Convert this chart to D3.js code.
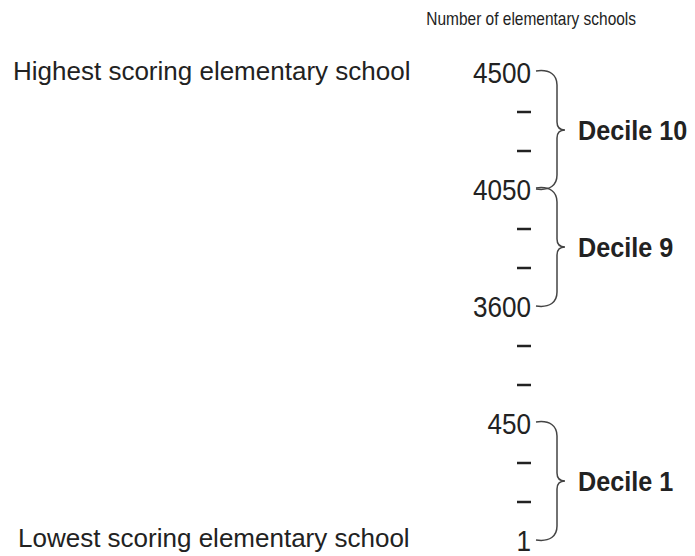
<!DOCTYPE html>
<html>
<head>
<meta charset="utf-8">
<script src="https://cdn.jsdelivr.net/npm/d3@7"></script>
<style>
  body { margin: 0; background: #fff; }
  text { font-family: "Liberation Sans", Arial, sans-serif; fill: #222; }
</style>
</head>
<body>
<svg id="chart" width="695" height="556"></svg>
<script>
// rows of the rank ladder, top to bottom ("" = skipped ranks, drawn as a dash)
var rowLabels = ["4500", "", "", "4050", "", "", "3600", "", "", "450", "", "", "1"];

// deciles and the ranks they span
var decileNames = ["Decile 10", "Decile 9", "Decile 1"];
var decileTop = ["4500", "4050", "450"];
var decileBottom = ["4050", "3600", "1"];

var title = "Number of elementary schools";
var topLabel = "Highest scoring elementary school";
var bottomLabel = "Lowest scoring elementary school";

var svg = d3.select("#chart");

var y = d3.scalePoint()
    .domain(d3.range(rowLabels.length))
    .range([73, 541]);

var numRight = 531,   // right edge of the numbers
    braceX0 = 536,
    braceX1 = 557,
    tipX = 565,
    labelX = 578;

// title
svg.append("text")
    .attr("transform", "translate(636,25) scale(0.86,1)")
    .attr("text-anchor", "end")
    .style("font-size", "18px")
    .text(title);

// left side labels
svg.append("text")
    .attr("x", 13)
    .attr("y", y(0) + 7)
    .style("font-size", "26px")
    .text(topLabel);

svg.append("text")
    .attr("x", 18)
    .attr("y", y(rowLabels.length - 1) + 6)
    .style("font-size", "26px")
    .text(bottomLabel);

// numbers
svg.selectAll(".num")
    .data(rowLabels.map(function(d, i) { return {label: d, i: i}; })
        .filter(function(d) { return d.label !== ""; }))
  .enter().append("text")
    .attr("class", "num")
    .attr("transform", function(d) { return "translate(" + numRight + "," + y(d.i) + ") scale(0.9,1)"; })
    .attr("text-anchor", "end")
    .attr("dy", "0.36em")
    .style("font-size", "29px")
    .text(function(d) { return d.label; });

// dashes for the skipped ranks
svg.selectAll(".dash")
    .data(d3.range(rowLabels.length).filter(function(i) { return rowLabels[i] === ""; }))
  .enter().append("line")
    .attr("class", "dash")
    .attr("x1", numRight - 14)
    .attr("x2", numRight)
    .attr("y1", function(i) { return y(i); })
    .attr("y2", function(i) { return y(i); })
    .attr("stroke", "#222")
    .attr("stroke-width", 2.5);

// braces
function bracePath(y0, y1) {
  var ym = (y0 + y1) / 2;
  return "M" + braceX0 + "," + y0 +
    " C" + (braceX0 + 14) + "," + (y0 - 2) + " " + braceX1 + "," + (y0 + 4) + " " + braceX1 + "," + (y0 + 14) +
    " L" + braceX1 + "," + (ym - 8) +
    " C" + braceX1 + "," + (ym - 3) + " " + (braceX1 + 3) + "," + ym + " " + tipX + "," + ym +
    " C" + (braceX1 + 3) + "," + ym + " " + braceX1 + "," + (ym + 3) + " " + braceX1 + "," + (ym + 8) +
    " L" + braceX1 + "," + (y1 - 14) +
    " C" + braceX1 + "," + (y1 - 4) + " " + (braceX0 + 14) + "," + (y1 + 2) + " " + braceX0 + "," + y1;
}

var deciles = decileNames.map(function(name, k) {
  return {
    name: name,
    y0: y(rowLabels.indexOf(decileTop[k])) - 2,
    y1: y(rowLabels.indexOf(decileBottom[k])) - 1
  };
});

svg.selectAll(".brace")
    .data(deciles)
  .enter().append("path")
    .attr("class", "brace")
    .attr("d", function(d) { return bracePath(d.y0, d.y1); })
    .attr("fill", "none")
    .attr("stroke", "#444")
    .attr("stroke-width", 1.5);

svg.selectAll(".decile")
    .data(deciles)
  .enter().append("text")
    .attr("class", "decile")
    .attr("transform", function(d) { return "translate(" + labelX + "," + ((d.y0 + d.y1) / 2) + ") scale(0.9,1)"; })
    .attr("dy", "0.36em")
    .style("font-size", "28px")
    .style("font-weight", "bold")
    .text(function(d) { return d.name; });
</script>
</body>
</html>
